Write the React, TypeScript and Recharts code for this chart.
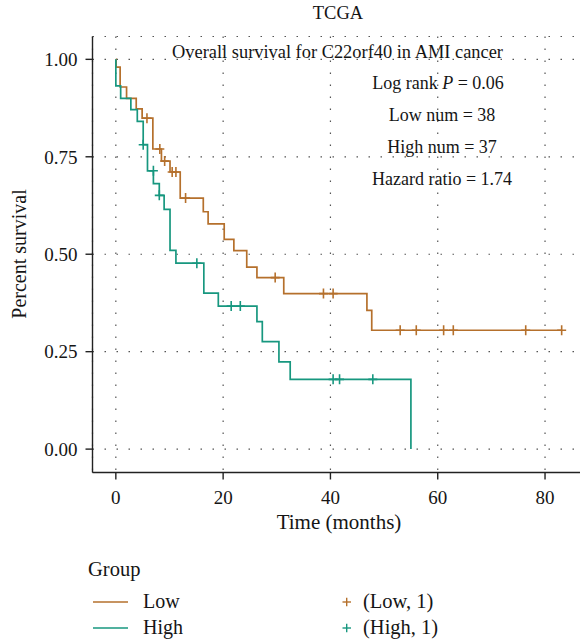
import React from 'react';
import { ComposedChart, Line, Scatter, XAxis, YAxis, CartesianGrid } from 'recharts';

// step points of the survival curves (months, proportion surviving)
const lowTimes = [0, 0.05, 0.8, 2.0, 3.8, 4.9, 6.9, 8.5, 10.1, 12.0, 16.3, 17.2, 20.2, 22.0, 24.4, 26.3, 31.3, 46.8, 47.7, 83.1];
const lowSurv = [1, 0.98, 0.929, 0.9, 0.873, 0.849, 0.77, 0.739, 0.711, 0.644, 0.609, 0.578, 0.538, 0.509, 0.467, 0.44, 0.399, 0.356, 0.305, 0.305];
const highTimes = [0, 0, 0.9, 2.8, 4.0, 5.1, 5.9, 7.0, 8.1, 9.0, 10.1, 11.2, 16.4, 19.1, 26.3, 27.3, 30.4, 32.5, 55.0];
const highSurv = [1, 0.932, 0.9, 0.871, 0.841, 0.781, 0.714, 0.681, 0.651, 0.615, 0.51, 0.477, 0.4, 0.367, 0.327, 0.276, 0.224, 0.179, 0];

// censored observations
const lowCensorTimes = [5.8, 8.2, 9.1, 10.5, 11.2, 13.0, 29.7, 38.7, 40.5, 53.0, 56.0, 61.1, 62.9, 76.4, 83.1];
const lowCensorSurv = [0.849, 0.77, 0.739, 0.711, 0.711, 0.644, 0.44, 0.399, 0.399, 0.305, 0.305, 0.305, 0.305, 0.305, 0.305];
const highCensorTimes = [5.1, 7.0, 8.1, 15.1, 21.5, 23.2, 40.5, 41.7, 47.9];
const highCensorSurv = [0.781, 0.714, 0.651, 0.477, 0.367, 0.367, 0.179, 0.179, 0.179];

const xTicks = [0, 20, 40, 60, 80];
const yTicks = [0, 0.25, 0.5, 0.75, 1];

const statLines = ['Low num = 38', 'High num = 37', 'Hazard ratio = 1.74'];

const LOW = '#B5702C';
const HIGH = '#17977F';
const INK = '#151515';
const FONT = '"Liberation Serif", "DejaVu Serif", serif';

const zip = (t: number[], s: number[]) => t.map((v, i) => ({ t: v, s: s[i] }));

const lowCurve = zip(lowTimes, lowSurv);
const highCurve = zip(highTimes, highSurv);
const lowCensor = zip(lowCensorTimes, lowCensorSurv);
const highCensor = zip(highCensorTimes, highCensorSurv);

const plus = (color: string) => (props: any) => {
    const { cx, cy } = props;
    if (cx == null || cy == null) return <g />;
    return (
        <g stroke={color} strokeWidth={1.6}>
            <line x1={cx - 4.5} y1={cy} x2={cx + 4.5} y2={cy} />
            <line x1={cx} y1={cy - 5} x2={cx} y2={cy + 5} />
        </g>
    );
};

const App: React.FC = () => {
    const tickStyle = { fill: INK, fontSize: 19, fontFamily: FONT };
    return (
        <div style={{ position: 'absolute', left: 0, top: 0, width: 580, height: 643, overflow: 'hidden', background: '#fff' }}>
            <ComposedChart width={600} height={643} margin={{ top: 36.5, right: 15, bottom: 140.5, left: 12.5 }}>
                <CartesianGrid stroke="#555" strokeWidth={1.2} strokeDasharray="1.5 10.5" />
                <XAxis
                    dataKey="t"
                    type="number"
                    domain={[-4.35, 87.45]}
                    ticks={xTicks}
                    allowDataOverflow
                    height={30}
                    tick={tickStyle}
                    tickSize={7}
                    tickMargin={11}
                    stroke="#222"
                    strokeWidth={1.4}
                />
                <XAxis xAxisId="top" orientation="top" type="number" domain={[-4.35, 87.45]} height={0} tick={false} tickLine={false} stroke="#222" strokeWidth={1.4} />
                <YAxis
                    dataKey="s"
                    type="number"
                    domain={[-0.06, 1.0586]}
                    ticks={yTicks}
                    allowDataOverflow
                    width={80}
                    tick={tickStyle}
                    tickFormatter={(v: number) => v.toFixed(2)}
                    tickSize={7}
                    tickMargin={8}
                    stroke="#222"
                    strokeWidth={1.4}
                />
                <Line data={lowCurve} dataKey="s" type="stepAfter" stroke={LOW} strokeWidth={1.7} dot={false} isAnimationActive={false} />
                <Line data={highCurve} dataKey="s" type="stepAfter" stroke={HIGH} strokeWidth={1.7} dot={false} isAnimationActive={false} />
                <Scatter data={lowCensor} dataKey="s" shape={plus(LOW)} isAnimationActive={false} />
                <Scatter data={highCensor} dataKey="s" shape={plus(HIGH)} isAnimationActive={false} />
            </ComposedChart>
            <svg width={580} height={643} style={{ position: 'absolute', left: 0, top: 0, pointerEvents: 'none' }} fontFamily={FONT} fill={INK}>
                <text x={338} y={19} fontSize={18.5} textAnchor="middle">TCGA</text>
                <text x={337.5} y={57.5} fontSize={18.4} textAnchor="middle">Overall survival for C22orf40 in AMI cancer</text>
                <text x={438} y={89} fontSize={18} textAnchor="middle">
                    Log rank <tspan fontStyle="italic">P</tspan> = 0.06
                </text>
                {statLines.map((s, i) => (
                    <text key={s} x={442} y={121 + i * 32} fontSize={18} textAnchor="middle">{s}</text>
                ))}
                <text x={26} y={254} fontSize={20} textAnchor="middle" transform="rotate(-90 26 254)">Percent survival</text>
                <text x={339} y={529} fontSize={21} textAnchor="middle">Time (months)</text>

                <text x={88} y={576} fontSize={20.5}>Group</text>
                <line x1={93} y1={602} x2={128} y2={602} stroke={LOW} strokeWidth={1.6} />
                <line x1={93} y1={628} x2={128} y2={628} stroke={HIGH} strokeWidth={1.6} />
                <text x={143} y={608} fontSize={20}>Low</text>
                <text x={143} y={634} fontSize={20}>High</text>
                <g stroke={LOW} strokeWidth={1.4}>
                    <line x1={342.5} y1={602} x2={351} y2={602} />
                    <line x1={346.7} y1={597.8} x2={346.7} y2={606.2} />
                </g>
                <g stroke={HIGH} strokeWidth={1.4}>
                    <line x1={342.5} y1={628} x2={351} y2={628} />
                    <line x1={346.7} y1={623.8} x2={346.7} y2={632.2} />
                </g>
                <text x={363} y={608} fontSize={20.5}>(Low, 1)</text>
                <text x={363} y={634} fontSize={20.5}>(High, 1)</text>
            </svg>
        </div>
    );
};

export default App;
